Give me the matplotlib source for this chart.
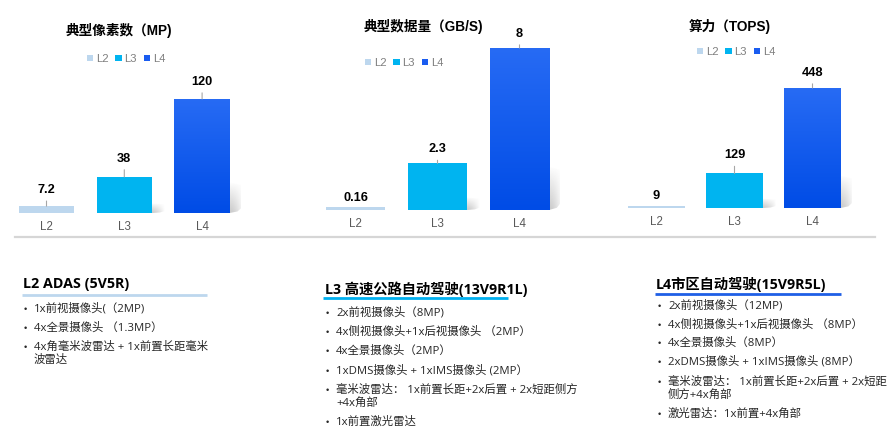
import numpy as np
import matplotlib
matplotlib.use('Agg')
import matplotlib.pyplot as plt
from matplotlib.patches import Patch, Polygon
from matplotlib.lines import Line2D

# ---------------- data ----------------
levels = ['L2', 'L3', 'L4']
pixel_values = [7.2, 38, 120]
data_rate_values = [0.16, 2.3, 8]
compute_values = [9, 129, 448]
pixel_labels = ['7.2', '38', '120']
data_rate_labels = ['0.16', '2.3', '8']
compute_labels = ['9', '129', '448']
chart_titles = ['典型像素数（MP)', '典型数据量（GB/S)', '算力（TOPS)']

l2_heading = 'L2 ADAS (5V5R)'
l2_items = ['1x前视摄像头(（2MP)',
            '4x全景摄像头 （1.3MP）',
            '4x角毫米波雷达 + 1x前置长距毫米\n波雷达']
l3_heading = 'L3 高速公路自动驾驶(13V9R1L)'
l3_items = ['2x前视摄像头（8MP)',
            '4x侧视摄像头+1x后视摄像头 （2MP）',
            '4x全景摄像头（2MP）',
            '1xDMS摄像头 + 1xIMS摄像头 (2MP）',
            '毫米波雷达： 1x前置长距+2x后置 + 2x短距侧方\n+4x角部',
            '1x前置激光雷达']
l4_heading = 'L4市区自动驾驶(15V9R5L)'
l4_items = ['2x前视摄像头（12MP)',
            '4x侧视摄像头+1x后视摄像头 （8MP）',
            '4x全景摄像头（8MP）',
            '2xDMS摄像头 + 1xIMS摄像头 (8MP）',
            '毫米波雷达： 1x前置长距+2x后置 + 2x短距\n侧方+4x角部',
            '激光雷达：1x前置+4x角部']

# ---------------- style ----------------
W, H, DPI = 894, 436, 100
colors = ['#BDD7EE', '#00B4F0', '#1A5CF0']
grad_top, grad_bot = np.array([0x27, 0x6B, 0xF4]) / 255, np.array([0x00, 0x4C, 0xE6]) / 255
LAT = ['Liberation Sans', 'Noto Sans CJK SC']
CJK = ['Open Sans', 'Noto Sans CJK SC']
plt.rcParams['font.family'] = LAT

fig = plt.figure(figsize=(W / DPI, H / DPI), dpi=DPI)
fig.patch.set_facecolor('white')


def fx(x):
    return x / W


def fy(y):
    return 1 - y / H


def px2pt(p):
    return p * 72 / DPI


charts = [
    dict(values=pixel_values, labels=pixel_labels, x0=7.6, x1=241, ytop=40, ybase=213, maxpx=114,
         width=0.71, title=(119, 30), legend=(126, 59), offs=[16, 18, 17]),
    dict(values=data_rate_values, labels=data_rate_labels, x0=314.5, x1=560.5, ytop=30, ybase=210, maxpx=162,
         width=0.72, title=(423, 27), legend=(404, 63), offs=[9, 14, 14]),
    dict(values=compute_values, labels=compute_labels, x0=617.5, x1=851.5, ytop=40, ybase=208, maxpx=120,
         width=0.72, title=(730, 26), legend=(736, 52), offs=[10, 18, 15]),
]

for ci, ch in enumerate(charts):
    ax = fig.add_axes([fx(ch['x0']), fy(ch['ybase']), fx(ch['x1'] - ch['x0']),
                       (ch['ybase'] - ch['ytop']) / H])
    vals = ch['values']
    ymax = max(vals) * (ch['ybase'] - ch['ytop']) / ch['maxpx']
    xs = np.arange(len(levels))
    bars = ax.bar(xs, vals, width=ch['width'], color=colors, zorder=3)
    ax.set_xlim(-0.5, len(levels) - 0.5)
    ax.set_ylim(0, ymax)
    spacing_px = (ch['x1'] - ch['x0']) / len(levels)

    # shadows for L3 / L4
    for i in (1, 2):
        r = xs[i] + ch['width'] / 2
        h = vals[i]
        sh = h * 0.27
        dx = 13 / spacing_px
        ny, nx = 60, 30
        ty = np.linspace(0, 1, ny)[:, None]
        tx = np.linspace(0, 1, nx)[None, :]
        alpha = 0.55 * (ty ** 0.9) * (1 - tx ** 1.6)
        img = np.zeros((ny, nx, 4))
        img[..., :3] = 0.62
        img[..., 3] = alpha
        im = ax.imshow(img, extent=[r, r + dx, 0, sh], aspect='auto', zorder=2,
                       interpolation='bilinear')
        poly = Polygon([(r, 0), (r, sh), (r + dx, sh * 0.9), (r + dx, sh * 0.2),
                        (r + dx * 0.6, 0.05 * sh)], closed=True, transform=ax.transData,
                       facecolor='none', edgecolor='none')
        ax.add_patch(poly)
        im.set_clip_path(poly)

    # gradient on L4 bar
    b = bars[2]
    n = 100
    t = np.linspace(0, 1, n)[:, None]
    gimg = np.zeros((n, 1, 3))
    gimg[:, 0, :] = grad_top[None, :] * (1 - t) + grad_bot[None, :] * t
    gi = ax.imshow(gimg, extent=[b.get_x(), b.get_x() + b.get_width(), 0, b.get_height()],
                   aspect='auto', zorder=4)
    gi.set_clip_path(b)
    ax.set_xlim(-0.5, len(levels) - 0.5)
    ax.set_ylim(0, ymax)

    # value labels
    for i, (v, lab) in enumerate(zip(vals, ch['labels'])):
        off = ch['offs'][i]
        ap = dict(arrowstyle='-', color='#A6A6A6', lw=0.8, shrinkA=1.5, shrinkB=0) if off > 12 else None
        ax.annotate(lab, xy=(xs[i], v), xytext=(0, px2pt(off)), textcoords='offset points',
                    ha='center', va='center', fontsize=9.2, fontweight='bold', color='#000000',
                    arrowprops=ap, zorder=6, annotation_clip=False)

    ax.set_xticks(xs)
    ax.set_xticklabels(levels, fontsize=8.3, color='#595959')
    ax.tick_params(axis='x', length=0, pad=6)
    ax.set_yticks([])
    for s in ax.spines.values():
        s.set_visible(False)
    ax.patch.set_alpha(0)

    # title
    fig.text(fx(ch['title'][0]), fy(ch['title'][1]), chart_titles[ci], ha='center', va='center',
             fontsize=9.8, fontweight='bold', color='#000000', family=LAT)
    # legend
    handles = [Patch(facecolor=c, edgecolor='none') for c in colors]
    fig.legend(handles, levels, loc='center', ncol=3, frameon=False,
               bbox_to_anchor=(fx(ch['legend'][0]), fy(ch['legend'][1])),
               handlelength=0.55, handleheight=0.55, handletextpad=0.25, columnspacing=0.63,
               fontsize=8.1, labelcolor='#7F7F7F', borderpad=0, borderaxespad=0)

# bottom separator line
fig.add_artist(Line2D([fx(15), fx(875)], [fy(237.5), fy(237.5)], transform=fig.transFigure,
                      color='#D6D6D6', lw=1.6))

# ---------------- text sections ----------------
sections = [
    dict(head=l2_heading, items=l2_items, hx=23, hy=284, ul=(22, 207, 295), ulc='#BDD7EE',
         bx=25, tx=34, ys=[309, 328, 347]),
    dict(head=l3_heading, items=l3_items, hx=325, hy=289, ul=(323, 508, 298), ulc='#00B0F0',
         bx=327, tx=336, ys=[313, 332, 351, 371, 390, 422]),
    dict(head=l4_heading, items=l4_items, hx=656, hy=284, ul=(655, 841, 294), ulc='#1F5FE6',
         bx=659, tx=668, ys=[306, 325, 343, 362, 382, 414]),
]
for sec in sections:
    fig.text(fx(sec['hx']), fy(sec['hy']), sec['head'], ha='left', va='center',
             fontsize=10.3, fontweight='bold', color='#000000', family=CJK)
    x0, x1, yl = sec['ul']
    fig.add_artist(Line2D([fx(x0), fx(x1)], [fy(yl), fy(yl)], transform=fig.transFigure,
                          color=sec['ulc'], lw=2.0, solid_capstyle='butt'))
    for item, y in zip(sec['items'], sec['ys']):
        fig.text(fx(sec['bx']), fy(y), '•', ha='center', va='center', fontsize=6.5,
                 color='#262626', family=LAT)
        for k, line in enumerate(item.split('\n')):
            fig.text(fx(sec['tx']), fy(y + 13.5 * k), line, ha='left', va='center',
                     fontsize=8.2, color='#262626', family=CJK)

fig.savefig('out.png', dpi=DPI, facecolor='white')
